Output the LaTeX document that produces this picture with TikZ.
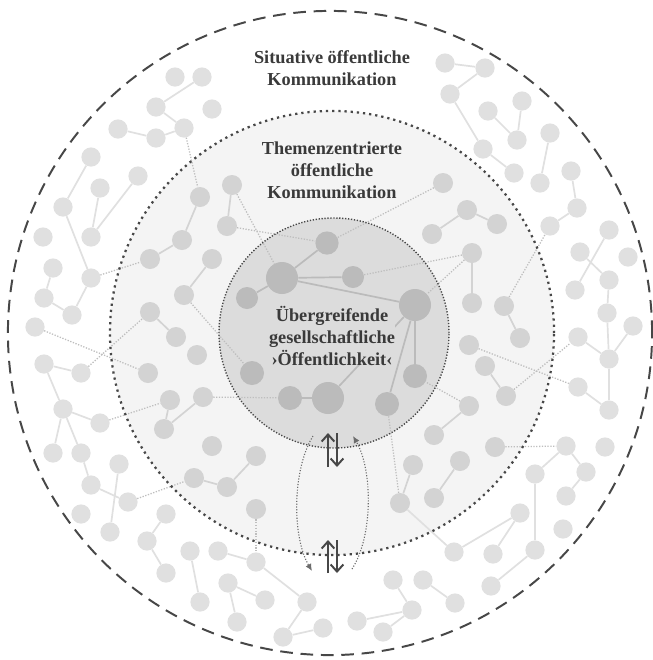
\documentclass[tikz,border=0pt]{standalone}
\usepackage{fontspec}
\setmainfont{Liberation Serif}
\usepackage{tikz}
\usetikzlibrary{arrows.meta,calc}

\definecolor{ringfill}{HTML}{F4F4F4}
\definecolor{corefill}{HTML}{DCDCDC}
\definecolor{odotc}{HTML}{E0E0E0}
\definecolor{mdotc}{HTML}{D3D3D3}
\definecolor{idotc}{HTML}{BBBBBB}
\definecolor{dlinkc}{HTML}{BEBEBE}
\definecolor{rimc}{HTML}{474747}
\definecolor{textc}{HTML}{3A3A3A}

\begin{document}
\begin{tikzpicture}[x=0.025cm, y=-0.025cm,
  odot/.style={circle, fill=odotc, inner sep=0pt, minimum size=0.48cm},
  mdot/.style={circle, fill=mdotc, inner sep=0pt, minimum size=0.5cm},
  idot/.style={circle, fill=idotc, inner sep=0pt, minimum size=#1},
  olnk/.style={draw=odotc, line width=1.2pt},
  mlnk/.style={draw=mdotc, line width=1.2pt},
  ilnk/.style={draw=idotc, line width=1.2pt},
  dlnk/.style={draw=dlinkc, line width=0.9pt, dash pattern=on 0.9pt off 1.1pt},
  arr/.style={draw=rimc, line width=1.4pt, -{Straight Barb[length=5pt,width=9pt]}},
  curv/.style={draw=gray!85!black, line width=0.8pt, dash pattern=on 0.8pt off 1.2pt, -{Latex[length=5pt,width=4.5pt]}},
  lab/.style={font=\bfseries\fontsize{13}{15.5}\selectfont, text=textc, align=center}
]
\fill[white] (0,0) rectangle (653,660);
\useasboundingbox (0,0) rectangle (653,660);

\coordinate (ctr) at (332,333);
\fill[ringfill] (ctr) circle [radius=5.55cm];
\fill[corefill] ($(ctr)+(2,0)$) circle [radius=2.875cm];

\foreach \n/\x/\y in {o1/175/77, o2/202/77, o3/156/107, o4/212/109, o5/118/129, o6/156/138, o7/184/128, o8/91/157, o9/138/176, o10/100/188, o11/63/207, o12/43/237, o13/91/237, o14/53/268, o15/91/278, o16/44/298, o17/72/315, o18/35/327, o19/44/364, o20/81/373, o21/63/409, o22/100/423, o23/53/453, o24/81/453, o25/91/485, o26/119/464, o27/128/502, o28/81/514, o29/110/532, o30/166/514, o31/147/541, o32/166/573, o33/190/551, o34/218/551, o35/256/562, o36/228/583, o37/200/602, o38/265/600, o39/237/622, o40/307/602, o41/283/637, o42/323/628, o43/357/621, o44/383/632, o45/393/580, o46/423/580, o47/412/610, o48/455/603, o49/454/552, o50/493/554, o51/535/550, o52/491/586, o53/520/513, o54/563/529, o55/535/474, o56/566/446, o57/586/472, o58/566/496, o59/605/447, o60/578/337, o61/633/326, o62/609/359, o63/578/387, o64/609/410, o65/445/63, o66/485/68, o67/450/94, o68/522/101, o69/488/111, o70/517/140, o71/550/133, o72/483/149, o73/514/173, o74/571/171, o75/540/183, o76/577/208, o77/550/226, o78/609/230, o79/580/252, o80/628/257, o81/609/280, o82/575/290, o83/607/313}
  \node[odot] (\n) at (\x,\y) {};

\foreach \n/\x/\y in {m1/232/185, m2/200/197, m3/227/226, m4/182/240, m5/150/259, m6/212/259, m7/184/295, m8/150/312, m9/176/337, m10/197/355, m11/148/373, m12/170/400, m13/203/397, m14/164/429, m15/212/446, m16/194/478, m17/227/487, m18/256/456, m19/256/509, m20/400/503, m21/434/498, m22/413/465, m23/460/461, m24/434/435, m25/469/406, m26/485/366, m27/506/396, m28/469/345, m29/495/447, m30/520/338, m31/472/303, m32/504/306, m33/472/253, m34/432/234, m35/467/210, m36/497/224, m37/443/183}
  \node[mdot] (\n) at (\x,\y) {};

\foreach \n/\x/\y/\d in {i1/327/243/0.58cm, i2/282/278/0.8cm, i3/353/277/0.55cm, i4/247/298/0.55cm, i5/415/305/0.8cm, i6/252/373/0.6cm, i7/415/376/0.6cm, i8/290/398/0.6cm, i9/328/398/0.8cm, i10/387/404/0.6cm}
  \node[idot=\d] (\n) at (\x,\y) {};

\foreach \a/\b in {o2/o3, o3/o7, o5/o6, o6/o7, o8/o11, o11/o15, o10/o13, o9/o13, o14/o16, o16/o17, o17/o15, o19/o20, o19/o21, o21/o22, o21/o23, o21/o24, o24/o25, o25/o27, o26/o29, o30/o31, o31/o32, o33/o37, o34/o35, o35/o40, o40/o41, o41/o42, o36/o39, o36/o38, o45/o47, o46/o48, o47/o43, o47/o44, o53/o49, o53/o50, o55/o51, o51/o52, o56/o55, o56/o57, o57/o58, o60/o62, o61/o62, o62/o64, o63/o64, o65/o66, o66/o67, o67/o72, o72/o73, o69/o70, o68/o70, o71/o75, o74/o76, o76/o77, o78/o82, o79/o81, o81/o83, o83/o62, m20/o49}
  \draw[olnk] (\a) -- (\b);

\foreach \a/\b in {m1/m3, m2/m4, m4/m5, m6/m7, m8/m9, m13/m14, m12/m14, m16/m17, m17/m18, m22/m20, m23/m21, m24/m25, m26/m27, m35/m36, m35/m34, m33/m31, m32/m30}
  \draw[mlnk] (\a) -- (\b);

\foreach \a/\b in {i1/i2, i2/i3, i2/i4, i2/i5, i5/i7, i5/i10, i8/i9, i9/i5}
  \draw[ilnk] (\a) -- (\b);

\foreach \a/\b in {o7/m2, o15/m5, o18/m11, o20/m8, o22/m12, o27/m16, m19/o35, m27/o60, m28/o63, m29/o56, m32/o77, m1/i2, m3/i1, m7/i6, m13/i8, m37/i1, m33/i3, m33/i5, m25/i7, m20/i10}
  \draw[dlnk] (\a) -- (\b);

\draw[rimc, line width=1.4pt, dash pattern=on 9pt off 5.5pt] ($(ctr)+(-2,0)$) circle [radius=8.05cm];
\draw[rimc, line width=1.6pt, dash pattern=on 1.6pt off 2.8pt] (ctr) circle [radius=5.55cm];
\draw[rimc, line width=1pt, dash pattern=on 0.9pt off 1.2pt] ($(ctr)+(2,0)$) circle [radius=2.875cm];

\node[lab] (sit) at (332,68) {Situative öffentliche\\Kommunikation};
\node[lab] (thm) at (332,170) {Themenzentrierte\\öffentliche\\Kommunikation};
\node[lab, fill=corefill, inner sep=0pt] (core) at (332,336) {Übergreifende\\gesellschaftliche\\›Öffentlichkeit‹};

\coordinate (upa) at (328,467);
\coordinate (upb) at (328,433);
\coordinate (dna) at (337,433);
\coordinate (dnb) at (337,467);
\coordinate (upc) at (328,573);
\coordinate (upd) at (328,540);
\coordinate (dnc) at (337,540);
\coordinate (dnd) at (337,573);
\draw[arr] (upa) -- (upb);
\draw[arr] (dna) -- (dnb);
\draw[arr] (upc) -- (upd);
\draw[arr] (dnc) -- (dnd);

\coordinate (lt) at (313,436);
\coordinate (lb) at (312,571);
\coordinate (rb) at (352,569);
\coordinate (rt) at (353,436);
\draw[curv] (lt) .. controls (292,470) and (292,537) .. (lb);
\draw[curv] (rb) .. controls (373,537) and (373,470) .. (rt);
\end{tikzpicture}
\end{document}
